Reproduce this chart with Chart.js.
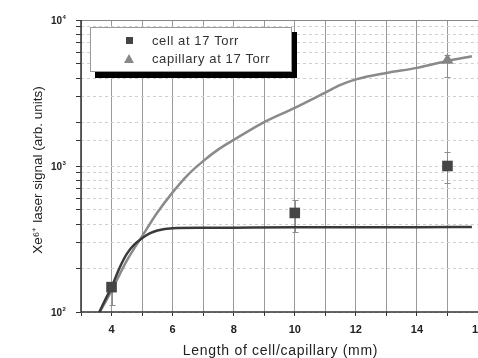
<!DOCTYPE html>
<html>
<head>
<meta charset="utf-8">
<script src="https://cdn.jsdelivr.net/npm/chart.js@4.4.1/dist/chart.umd.min.js"></script>
<style>
  html, body { margin: 0; padding: 0; background: #fff; overflow: hidden; }
  #wrap { width: 478px; height: 358px; }
</style>
</head>
<body>
<div id="wrap"><canvas id="signalChart"></canvas></div>
<script>
// measured points (length in mm, signal in arb. units)
const cellLength = [4, 10, 15];
const cellSignal = [148, 477, 1000];
const cellErrLow = [112, 353, 760];
const cellErrHigh = [158, 585, 1250];

const capLength = [15];
const capSignal = [5300];
const capErrLow = [4080];
const capErrHigh = [5800];

// model curves
const cellFitLength = [3.6, 3.8, 4.0, 4.25, 4.5, 4.75, 5.0, 5.25, 5.5, 6, 7, 8, 10, 12, 14, 15.8];
const cellFitSignal = [100, 122, 148, 198, 250, 290, 320, 345, 362, 375, 377, 378, 380, 381, 381, 382];
const capFitLength = [3.62, 4, 4.5, 5, 5.5, 6, 6.5, 7, 7.5, 8, 9, 10, 11, 11.5, 12, 13, 14, 15, 15.8];
const capFitSignal = [100, 140, 225, 330, 480, 660, 870, 1080, 1300, 1510, 2000, 2500, 3180, 3590, 3920, 4340, 4700, 5240, 5650];

const xTickLabels = [4, 6, 8, 10, 12, 14, 16];
const yTickValues = [100, 1000, 10000];
const yTickExponents = ['2', '3', '4'];
const legendLabels = ['cell at 17 Torr', 'capillary at 17 Torr'];
const xTitle = 'Length of cell/capillary (mm)';
const yTitle = 'Xe\u2076\u207A laser signal (arb. units)';

const toXY = (xs, ys) => xs.map((v, i) => ({ x: v, y: ys[i] }));
const FONT = '"Liberation Sans", Arial, sans-serif';

Chart.defaults.font.family = FONT;
Chart.defaults.color = '#222';

const decor = {
    id: 'decor',
    beforeDatasetsDraw(chart) {
        const { ctx, scales: { x, y } } = chart;
        ctx.save();
        ctx.strokeStyle = '#8c8c8c';
        ctx.lineWidth = 1;
        const bars = (xs, lo, hi) => xs.forEach((v, i) => {
            const px = Math.round(x.getPixelForValue(v)) + 0.5;
            const y1 = Math.round(y.getPixelForValue(lo[i])) + 0.5;
            const y2 = Math.round(y.getPixelForValue(hi[i])) + 0.5;
            ctx.beginPath();
            ctx.moveTo(px, y1); ctx.lineTo(px, y2);
            ctx.moveTo(px - 3, y1); ctx.lineTo(px + 3, y1);
            ctx.moveTo(px - 3, y2); ctx.lineTo(px + 3, y2);
            ctx.stroke();
        });
        bars(cellLength, cellErrLow, cellErrHigh);
        bars(capLength, capErrLow, capErrHigh);
        ctx.restore();
    },
    afterDraw(chart) {
        const { ctx, chartArea: a, scales: { x, y } } = chart;
        ctx.save();
        // frame
        ctx.strokeStyle = '#888';
        ctx.lineWidth = 1;
        ctx.beginPath();
        ctx.moveTo(a.left, a.top + 0.5); ctx.lineTo(a.right, a.top + 0.5);
        ctx.stroke();
        ctx.strokeStyle = '#333';
        ctx.lineWidth = 1.5;
        ctx.beginPath();
        ctx.moveTo(a.left, a.top); ctx.lineTo(a.left, a.bottom);
        ctx.lineTo(a.right, a.bottom);
        ctx.stroke();

        // x tick labels
        ctx.fillStyle = '#222';
        ctx.font = 'bold 11px ' + FONT;
        ctx.textAlign = 'center';
        ctx.textBaseline = 'middle';
        xTickLabels.forEach(v => ctx.fillText(String(v), x.getPixelForValue(v), 330));

        // y tick labels with superscript exponent
        yTickValues.forEach((v, i) => {
            const py = y.getPixelForValue(v);
            ctx.font = 'bold 10px ' + FONT;
            ctx.textAlign = 'right';
            ctx.fillText('10', 62, py + 1);
            ctx.font = 'bold 6px ' + FONT;
            ctx.textAlign = 'left';
            ctx.fillText(yTickExponents[i], 62.5, py - 3);
        });

        // axis titles
        ctx.font = '14px ' + FONT;
        ctx.letterSpacing = '0.7px';
        ctx.textAlign = 'center';
        ctx.fillText(xTitle, (a.left + a.right) / 2 + 1, 351);
        ctx.letterSpacing = '0px';
        ctx.save();
        ctx.translate(38, 170);
        ctx.rotate(-Math.PI / 2);
        ctx.font = '13.5px ' + FONT;
        ctx.fillText(yTitle, 0, 0);
        ctx.restore();

        // legend with drop shadow
        ctx.fillStyle = '#000';
        ctx.fillRect(95, 32, 202, 46);
        ctx.fillStyle = '#fff';
        ctx.fillRect(90, 27, 202, 45);
        ctx.strokeStyle = '#999';
        ctx.lineWidth = 1;
        ctx.strokeRect(90.5, 27.5, 201, 44);
        ctx.fillStyle = '#444';
        ctx.fillRect(126, 37, 7, 7);
        ctx.fillStyle = '#888';
        ctx.beginPath();
        ctx.moveTo(129, 54); ctx.lineTo(134, 63); ctx.lineTo(124, 63);
        ctx.closePath();
        ctx.fill();
        ctx.fillStyle = '#333';
        ctx.font = '13px ' + FONT;
        ctx.letterSpacing = '0.6px';
        ctx.textAlign = 'left';
        ctx.fillText(legendLabels[0], 152, 41);
        ctx.fillText(legendLabels[1], 152, 59);
        ctx.restore();
    }
};

const ctx = document.getElementById('signalChart').getContext('2d');
new Chart(ctx, {
    type: 'scatter',
    data: {
        datasets: [
            {
                label: legendLabels[0],
                data: toXY(cellLength, cellSignal),
                pointStyle: 'rect',
                pointRadius: 7.5,
                backgroundColor: '#454545',
                borderColor: '#454545',
                borderWidth: 0
            },
            {
                label: legendLabels[1],
                data: toXY(capLength, capSignal),
                pointStyle: 'triangle',
                pointRadius: 7,
                backgroundColor: '#858585',
                borderColor: '#858585',
                borderWidth: 0
            },
            {
                label: 'cell model',
                data: toXY(cellFitLength, cellFitSignal),
                showLine: true,
                pointRadius: 0,
                borderColor: '#3a3a3a',
                borderWidth: 2.5,
                cubicInterpolationMode: 'monotone'
            },
            {
                label: 'capillary model',
                data: toXY(capFitLength, capFitSignal),
                showLine: true,
                pointRadius: 0,
                borderColor: '#8a8a8a',
                borderWidth: 2.5,
                cubicInterpolationMode: 'monotone'
            }
        ]
    },
    options: {
        responsive: true,
        maintainAspectRatio: false,
        animation: false,
        layout: { autoPadding: false, padding: { top: 20, left: 0, right: 0, bottom: 0 } },
        plugins: { legend: { display: false }, tooltip: { enabled: false } },
        scales: {
            x: {
                type: 'linear',
                min: 3,
                max: 16,
                ticks: { stepSize: 1, autoSkip: false, display: false },
                grid: { color: '#9a9a9a', tickColor: '#333', tickLength: 4 },
                border: { display: false },
                afterFit: s => { s.height = 46; }
            },
            y: {
                type: 'logarithmic',
                min: 100,
                max: 10000,
                ticks: { display: false, autoSkip: false },
                grid: { color: '#cfcfcf', tickColor: '#333', tickLength: 5 },
                border: { display: false, dash: [3, 3] },
                afterFit: s => { s.width = 81; }
            }
        }
    },
    plugins: [decor]
});
</script>
</body>
</html>
